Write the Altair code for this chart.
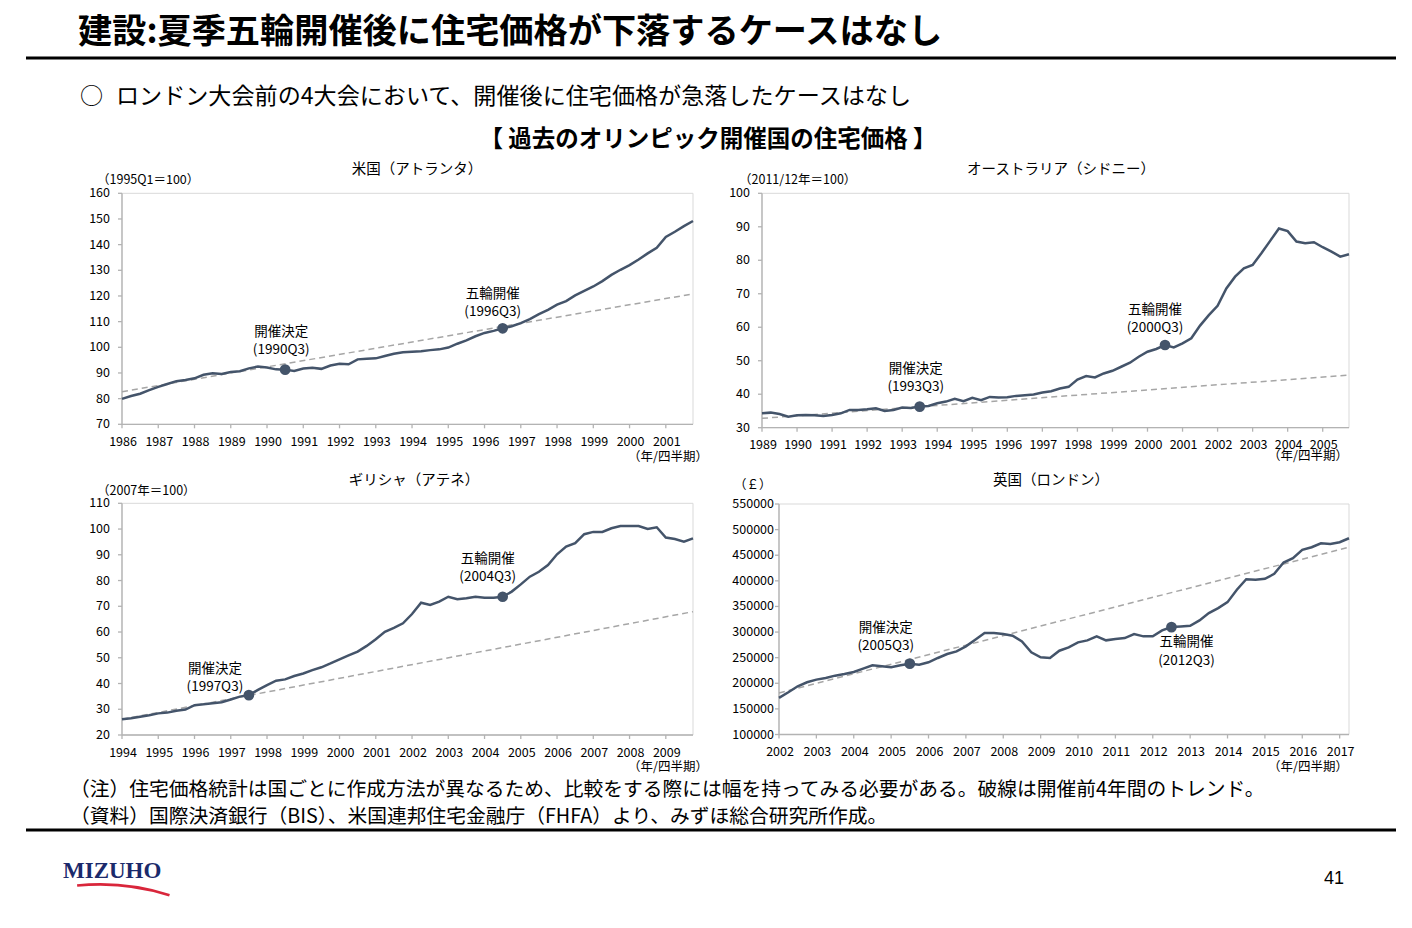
import altair as alt
import pandas as pd

FONT = "Noto Sans CJK JP"
W, H = 1396, 912
LINE = "#44546a"
TREND = "#a6a6a6"
AXIS = "#b3b3b3"
FRAME = "#d9d9d9"

# ---------------- data ----------------
us_start = 1986.0
us_values = [79.9, 81.0, 81.9, 83.3, 84.6, 85.7, 86.8, 87.3,
             87.9, 89.3, 89.9, 89.6, 90.4, 90.7, 91.8, 92.5,
             92.1, 91.4, 91.3, 90.8, 91.7, 92.0, 91.6, 92.9,
             93.6, 93.4, 95.3, 95.5, 95.7, 96.6, 97.5, 98.1,
             98.3, 98.5, 98.9, 99.2, 99.9, 101.4, 102.7, 104.3,
             105.6, 106.4, 107.4, 108.2, 109.4, 111.0, 112.9, 114.6,
             116.6, 118.0, 120.2, 122.0, 123.7, 125.8, 128.2, 130.2,
             132.0, 134.2, 136.6, 138.8, 143.0, 145.0, 147.2, 149.2]
us_trend = [82.7, 120.8]
us_events = [18, 42]
us_event_names = ["開催決定", "五輪開催"]
us_event_q = ["(1990Q3)", "(1996Q3)"]
us_years = list(range(1986, 2002))
us_yticks = list(range(70, 161, 10))

aus_start = 1989.0
aus_values = [34.3, 34.5, 34.1, 33.3, 33.7, 33.8, 33.7, 33.5,
              33.8, 34.3, 35.3, 35.3, 35.5, 35.8, 35.0, 35.3,
              36.0, 35.9, 36.3, 36.5, 37.3, 37.8, 38.6, 37.9,
              38.9, 38.2, 39.2, 39.0, 39.1, 39.5, 39.7, 39.9,
              40.5, 40.9, 41.7, 42.2, 44.4, 45.4, 45.0, 46.2,
              47.0, 48.2, 49.4, 51.2, 52.7, 53.5, 54.7, 54.0,
              55.2, 56.7, 60.5, 63.6, 66.4, 71.6, 75.1, 77.6,
              78.6, 82.1, 85.8, 89.5, 88.7, 85.6, 85.1, 85.4,
              83.9, 82.6, 81.1, 81.8]
aus_trend = [32.8, 45.7]
aus_events = [18, 46]
aus_event_names = ["開催決定", "五輪開催"]
aus_event_q = ["(1993Q3)", "(2000Q3)"]
aus_years = list(range(1989, 2006))
aus_yticks = list(range(30, 101, 10))

gre_start = 1994.0
gre_values = [26.1, 26.5, 27.1, 27.7, 28.4, 28.7, 29.4, 29.9,
              31.6, 31.9, 32.3, 32.7, 33.8, 34.9, 35.5, 37.5,
              39.4, 41.1, 41.6, 42.9, 43.9, 45.2, 46.3, 47.8,
              49.4, 50.9, 52.4, 54.6, 57.2, 60.1, 61.6, 63.4,
              67.0, 71.4, 70.5, 71.8, 73.7, 72.7, 73.1, 73.7,
              73.3, 73.3, 73.7, 75.7, 78.5, 81.5, 83.4, 86.0,
              90.2, 93.2, 94.5, 98.0, 98.9, 98.9, 100.3, 101.2,
              101.2, 101.2, 100.0, 100.7, 96.7, 96.1, 95.1, 96.4]
gre_trend = [26.1, 67.9]
gre_events = [14, 42]
gre_event_names = ["開催決定", "五輪開催"]
gre_event_q = ["(1997Q3)", "(2004Q3)"]
gre_years = list(range(1994, 2010))
gre_yticks = list(range(20, 111, 10))

uk_start = 2002.0
uk_values = [171400, 182500, 194200, 202000, 207100, 210400, 214900, 218200,
             222100, 228600, 235100, 233100, 231200, 235100, 238300, 236400,
             240900, 249400, 257100, 262300, 272100, 285100, 298100, 298100,
             296100, 292900, 281800, 260400, 250600, 249400, 263600, 270100,
             279900, 283800, 291600, 283800, 286400, 288300, 296100, 291600,
             291600, 303200, 309700, 311000, 312300, 322700, 337000, 346800,
             358400, 382500, 403200, 401900, 403900, 413600, 435700, 444200,
             460400, 465600, 473400, 472100, 475300, 483100]
uk_trend = [181200, 465600]
uk_events = [14, 42]
uk_event_names = ["開催決定", "五輪開催"]
uk_event_q = ["(2005Q3)", "(2012Q3)"]
uk_years = list(range(2002, 2018))
uk_yticks = list(range(100000, 550001, 50000))

one = pd.DataFrame({"k": [0]})


def text_layer(txt, x, y, size, align="left", weight="normal", color="#000", font=FONT):
    return alt.Chart(one).mark_text(
        text=txt, align=align, baseline="middle", fontSize=size,
        fontWeight=weight, color=color, font=font
    ).encode(x=alt.value(x), y=alt.value(y))


def panel(values, start, trend, ev_idx, ev_names, ev_q, offsets,
          xr, yr, ydom, yticks, xticks, ylab_dx):
    n = len(values)
    ts = [start + i / 4 for i in range(n)]
    t0, t1 = ts[0], ts[-1]
    df = pd.DataFrame({"t": ts, "v": values})
    tr = pd.DataFrame({"t": [t0, t1], "v": trend})
    frame = pd.DataFrame({"t0": [t0], "t1": [t1], "v0": [ydom[0]], "v1": [ydom[1]]})
    xs = alt.Scale(domain=[t0, t1], range=[xr[0], xr[1]], nice=False, zero=False)
    ys = alt.Scale(domain=ydom, range=[yr[1], yr[0]], nice=False, zero=False)

    def X(f):
        return alt.X(f, type="quantitative", scale=xs, axis=None)

    def Y(f):
        return alt.Y(f, type="quantitative", scale=ys, axis=None)

    border = alt.Chart(frame).mark_rect(fillOpacity=0, stroke=FRAME, strokeWidth=1).encode(
        x=X("t0"), x2="t1", y=Y("v0"), y2="v1")
    # axis lines
    ax_left = alt.Chart(frame).mark_rule(color=AXIS, strokeWidth=1.3).encode(
        x=X("t0"), y=Y("v0"), y2="v1")
    ax_bottom = alt.Chart(frame).mark_rule(color=AXIS, strokeWidth=1.3).encode(
        x=X("t0"), x2="t1", y=Y("v0"))
    # ticks and tick labels
    xt = pd.DataFrame({"t": xticks, "b": [ydom[0]] * len(xticks),
                       "lab": [str(v) for v in xticks]})
    yt = pd.DataFrame({"v": yticks, "a": [t0] * len(yticks),
                       "lab": [str(v) for v in yticks]})
    xtick = alt.Chart(xt).mark_rule(color=AXIS, strokeWidth=1.3, y2Offset=4).encode(
        x=X("t"), y=Y("b"), y2="b")
    ytick = alt.Chart(yt).mark_rule(color=AXIS, strokeWidth=1.3, xOffset=-4).encode(
        x=X("a"), x2="a", y=Y("v"))
    xlab = alt.Chart(xt).mark_text(fontSize=12.5, font=FONT, color="#000", align="center",
                                   baseline="middle", dy=17.5, dx=1).encode(
        x=X("t"), y=Y("b"), text="lab:N")
    ylab = alt.Chart(yt).mark_text(fontSize=12.5, font=FONT, color="#000", align="right",
                                   baseline="middle", dx=ylab_dx).encode(
        x=X("a"), y=Y("v"), text="lab:N")

    trend_l = alt.Chart(tr).mark_line(color=TREND, strokeWidth=1.5, strokeDash=[6, 4]).encode(
        x=X("t"), y=Y("v"))
    line = alt.Chart(df).mark_line(color=LINE, strokeWidth=2.5).encode(x=X("t"), y=Y("v"))
    ev = pd.DataFrame({"t": [ts[i] for i in ev_idx], "v": [values[i] for i in ev_idx],
                       "name": ev_names, "q": ev_q})
    dots = alt.Chart(ev).mark_circle(size=115, color=LINE, opacity=1).encode(
        x=X("t"), y=Y("v"))
    layers = [border, ax_left, ax_bottom, xtick, ytick, xlab, ylab, trend_l, line, dots]
    for i, (dx, dy1, dy2) in enumerate(offsets):
        sub = ev.iloc[[i]]
        for field, dy in (("name", dy1), ("q", dy2)):
            layers.append(alt.Chart(sub).mark_text(
                dx=dx, dy=dy, fontSize=13.5, font=FONT, color="#000",
                align="center", baseline="middle").encode(
                x=X("t"), y=Y("v"), text=f"{field}:N"))
    return alt.layer(*layers)


us = panel(us_values, us_start, us_trend, us_events, us_event_names, us_event_q,
           [(-4, -38, -20), (-10, -34, -16)],
           (114, 685), (185.3, 416.3), [70, 160], us_yticks, us_years, -12)
aus = panel(aus_values, aus_start, aus_trend, aus_events, aus_event_names, aus_event_q,
            [(-4, -38, -20), (-10, -35, -17)],
            (754, 1341), (185.3, 419.7), [30, 100], aus_yticks, aus_years, -12)
gre = panel(gre_values, gre_start, gre_trend, gre_events, gre_event_names, gre_event_q,
            [(-34, -26, -8), (-15, -38, -20)],
            (114, 685), (495.3, 727), [20, 110], gre_yticks, gre_years, -12)
uk = panel(uk_values, uk_start, uk_trend, uk_events, uk_event_names, uk_event_q,
           [(-24, -36, -18), (15, 15, 34)],
           (771, 1341), (496, 726.5), [100000, 550000], uk_yticks, uk_years, -5)

deco = [
    text_layer("建設:夏季五輪開催後に住宅価格が下落するケースはなし", 70, 25, 34.2, weight="bold"),
    alt.Chart(one).mark_rule(color="#000", strokeWidth=3).encode(
        x=alt.value(18), x2=alt.value(1388), y=alt.value(50)),
    text_layer("○", 72, 89, 23.1),
    text_layer("ロンドン大会前の4大会において、開催後に住宅価格が急落したケースはなし", 108, 89, 23.1),
    text_layer("【 過去のオリンピック開催国の住宅価格 】", 700, 132, 23.5, align="center", weight="bold"),
    # panel titles
    text_layer("米国（アトランタ）", 409, 162, 14.5, align="center"),
    text_layer("オーストラリア（シドニー）", 1053, 162, 14.5, align="center"),
    text_layer("ギリシャ（アテネ）", 406, 473, 14.5, align="center"),
    text_layer("英国（ロンドン）", 1043, 473, 14.5, align="center"),
    # units
    text_layer("（1995Q1＝100）", 89, 172, 12.5),
    text_layer("（2011/12年＝100）", 731, 172, 12.5),
    text_layer("（2007年＝100）", 89, 483, 12.5),
    text_layer("（￡）", 726, 477, 12.5),
    text_layer("（年/四半期）", 700, 448.5, 12.5, align="right"),
    text_layer("（年/四半期）", 1340, 447.5, 12.5, align="right"),
    text_layer("（年/四半期）", 700, 759, 12.5, align="right"),
    text_layer("（年/四半期）", 1340, 759, 12.5, align="right"),
    # footer
    text_layer("（注）住宅価格統計は国ごとに作成方法が異なるため、比較をする際には幅を持ってみる必要がある。破線は開催前4年間のトレンド。",
               62, 782, 19.75),
    text_layer("（資料）国際決済銀行（BIS）、米国連邦住宅金融庁（FHFA）より、みずほ総合研究所作成。",
               62, 809, 19.75),
    alt.Chart(one).mark_rule(color="#000", strokeWidth=3).encode(
        x=alt.value(18), x2=alt.value(1388), y=alt.value(822)),
    text_layer("MIZUHO", 55, 863, 23, weight="bold", color="#1b2a6b", font="Liberation Serif"),
    alt.Chart(one).mark_arc(color="#d9263b", radius=230, radius2=227.3,
                            theta=6.183, theta2=6.592).encode(
        x=alt.value(92), y=alt.value(1105)),
    text_layer("41", 1326, 871, 18, align="center", font="Liberation Sans"),
]

chart = alt.layer(*deco, us, aus, gre, uk).resolve_scale(
    x="independent", y="independent").properties(
    width=W, height=H, autosize=alt.AutoSizeParams(type="none"), padding=0,
    background="#ffffff").configure_view(stroke=None)

chart.save("out.html", embed_options={"renderer": "svg", "actions": False})
